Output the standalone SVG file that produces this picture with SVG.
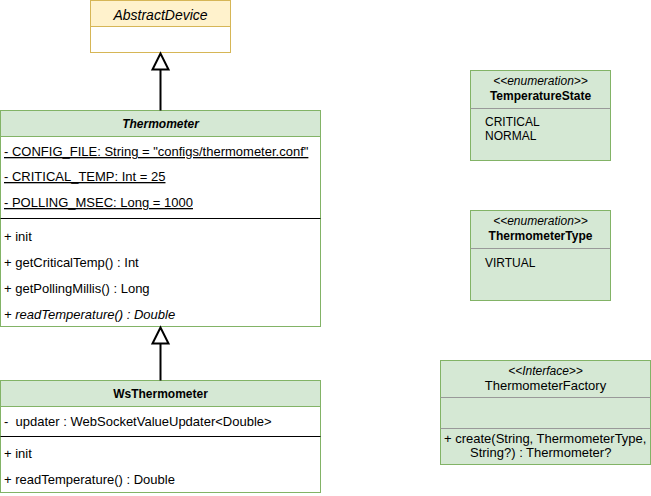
<svg xmlns="http://www.w3.org/2000/svg" width="651" height="496" viewBox="0 0 651 496">
<style>
text{font-family:"Liberation Sans",Arial,sans-serif;font-size:12px;fill:#000}
.b{font-size:13px}
.hd{font-weight:bold;text-anchor:middle}
.c{text-anchor:middle}
.it{font-style:italic}
.u{text-decoration:underline}
.g{fill:#d5e8d4;stroke:#82b366;stroke-width:1}
.w{fill:#fff;stroke:#82b366;stroke-width:1}
.sep{stroke:#000;stroke-width:1}
.hr{stroke:#999;stroke-width:1}
.edge{stroke:#000;stroke-width:2;fill:none}
.tri{fill:#fff;stroke:#000;stroke-width:2}
</style>
<g id="AbstractDevice">
<rect x="90.5" y="0.5" width="140" height="52" fill="#fff" stroke="#d6b656"/>
<rect x="90.5" y="0.5" width="140" height="26" fill="#fff2cc" stroke="#d6b656"/>
<text x="160.5" y="19.5" class="c it" style="font-size:14px">AbstractDevice</text>
</g>
<g id="Thermometer">
<rect x="0.5" y="110.5" width="320" height="216" class="w"/>
<rect x="0.5" y="110.5" width="320" height="26" class="g"/>
<text x="160.5" y="128" class="hd it">Thermometer</text>
<text x="4" y="156" class="b u">- CONFIG_FILE: String = "configs/thermometer.conf"</text>
<text x="4" y="181" class="b u">- CRITICAL_TEMP: Int = 25</text>
<text x="4" y="207" class="b u">- POLLING_MSEC: Long = 1000</text>
<line x1="0.5" y1="218.5" x2="320.5" y2="218.5" class="sep"/>
<text x="4" y="240.5" class="b">+ init</text>
<text x="4" y="266.5" class="b">+ getCriticalTemp() : Int</text>
<text x="4" y="293" class="b">+ getPollingMillis() : Long</text>
<text x="4" y="319" class="b it">+ readTemperature() : Double</text>
</g>
<g id="WsThermometer">
<rect x="0.5" y="380.5" width="320" height="112" class="w"/>
<rect x="0.5" y="380.5" width="320" height="26" class="g"/>
<text x="160.5" y="398" class="hd">WsThermometer</text>
<text x="4" y="425.5" class="b" xml:space="preserve">-  updater : WebSocketValueUpdater&lt;Double&gt;</text>
<line x1="0.5" y1="436.5" x2="320.5" y2="436.5" class="sep"/>
<text x="4" y="457.5" class="b">+ init</text>
<text x="4" y="484" class="b">+ readTemperature() : Double</text>
</g>
<g id="TemperatureState">
<rect x="470.5" y="70.5" width="140" height="90" class="g"/>
<text x="540.5" y="85" class="c it">&lt;&lt;enumeration&gt;&gt;</text>
<text x="540.5" y="100" class="hd">TemperatureState</text>
<line x1="470.5" y1="108.5" x2="610.5" y2="108.5" class="hr"/>
<text x="485" y="126">CRITICAL</text>
<text x="485" y="140">NORMAL</text>
</g>
<g id="ThermometerType">
<rect x="470.5" y="210.5" width="140" height="90" class="g"/>
<text x="540.5" y="225" class="c it">&lt;&lt;enumeration&gt;&gt;</text>
<text x="540.5" y="240" class="hd">ThermometerType</text>
<line x1="470.5" y1="248.5" x2="610.5" y2="248.5" class="hr"/>
<text x="485" y="266.5">VIRTUAL</text>
</g>
<g id="ThermometerFactory">
<rect x="440.5" y="360.5" width="210" height="104" class="g"/>
<text x="545.5" y="375" class="c it">&lt;&lt;Interface&gt;&gt;</text>
<text x="545.5" y="390" class="c b">ThermometerFactory</text>
<line x1="440.5" y1="397.5" x2="650.5" y2="397.5" class="hr"/>
<line x1="440.5" y1="428.5" x2="650.5" y2="428.5" class="hr"/>
<text x="444" y="442.5" class="b">+ create(String, ThermometerType,</text>
<text x="470" y="456.5" class="b">String?) : Thermometer?</text>
</g>
<g id="connectors">
<line x1="160.5" y1="69.5" x2="160.5" y2="110.5" class="edge"/>
<polygon points="160.5,53.5 152.5,69.5 168.5,69.5" class="tri"/>
<line x1="160.5" y1="343.5" x2="160.5" y2="380.5" class="edge"/>
<polygon points="160.5,327.5 152.5,343.5 168.5,343.5" class="tri"/>
</g>
</svg>
